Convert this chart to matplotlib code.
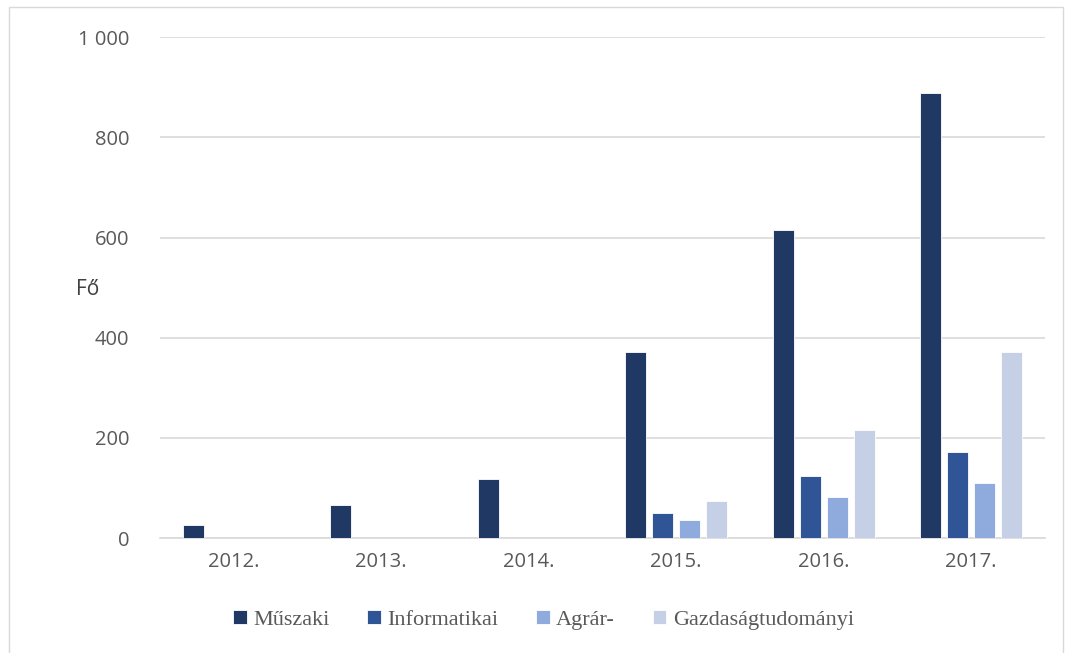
import numpy as np
import matplotlib
matplotlib.use("Agg")
import matplotlib.pyplot as plt
from matplotlib.patches import Rectangle
from matplotlib.ticker import FuncFormatter

years = ["2012.", "2013.", "2014.", "2015.", "2016.", "2017."]
series_names = ["Műszaki", "Informatikai", "Agrár-", "Gazdaságtudományi"]
muszaki = [26, 66, 118, 372, 615, 889]
informatikai = [0, 0, 0, 50, 124, 172]
agrar = [0, 0, 0, 37, 82, 109]
gazdasag = [0, 0, 0, 75, 216, 372]
colors = ["#203864", "#2f5597", "#8faadc", "#c5cfe6"]

plt.rcParams["font.family"] = ["Open Sans", "DejaVu Sans"]

fig = plt.figure(figsize=(10.7, 6.53), dpi=100)
ax = fig.add_axes([0.1495, 0.176, 0.827, 0.767])

x = np.arange(len(years))
step = 0.183
width = 0.142
for i, (name, vals) in enumerate(zip(series_names, [muszaki, informatikai, agrar, gazdasag])):
    ax.bar(x + (i - 1.5) * step, vals, width, color=colors[i], label=name,
           edgecolor="white", linewidth=0.6, zorder=3)

ax.set_xlim(-0.5, len(years) - 0.5)
ax.set_ylim(0, 1000)
ax.set_yticks(range(0, 1001, 200))
ax.yaxis.set_major_formatter(FuncFormatter(lambda v, p: f"{int(v):,}".replace(",", " ")))
ax.set_xticks(x)
ax.set_xticklabels(years)
ax.grid(axis="y", color="#d9d9d9", linewidth=1.2, zorder=0)
for s in ["top", "right", "left"]:
    ax.spines[s].set_visible(False)
ax.spines["bottom"].set_color("#d9d9d9")
ax.spines["bottom"].set_linewidth(1.2)
ax.tick_params(axis="both", length=0, labelsize=14.5, labelcolor="#595959")
ax.tick_params(axis="y", pad=22)
ax.tick_params(axis="x", pad=10)

fig.text(0.082, 0.557, "Fő", fontsize=15, color="#404040", ha="center", va="center")

leg = fig.legend(loc="center", bbox_to_anchor=(0.508, 0.051), ncol=4, frameon=False,
                 prop={"family": "Liberation Serif", "size": 16},
                 handlelength=0.6, handleheight=0.6, handletextpad=0.3, columnspacing=1.7)
for t in leg.get_texts():
    t.set_color("#595959")

fig.patches.append(Rectangle((0.008, -0.01), 0.985, 1.0, transform=fig.transFigure,
                             fill=False, edgecolor="#d9d9d9", linewidth=1))

fig.savefig("out.png", dpi=100)
